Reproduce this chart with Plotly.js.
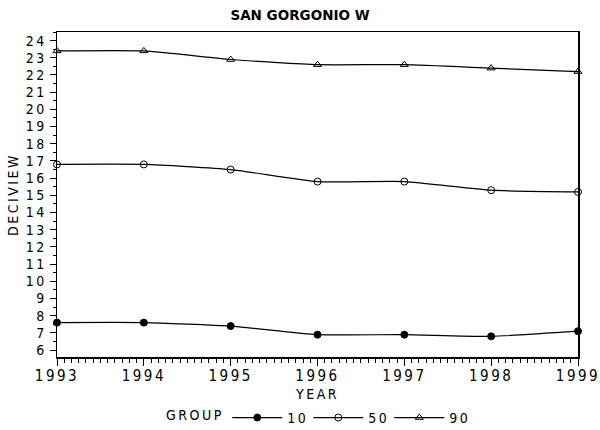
<!DOCTYPE html>
<html>
<head>
<meta charset="utf-8">
<script src="https://cdn.plot.ly/plotly-3.0.1.min.js"></script>
<style>
  body { margin: 0; background: #fff; }
  #chart { width: 600px; height: 430px; }
  .xtick text, .ytick text, .g-xtitle text, .g-ytitle text, .legend text { letter-spacing: 2.5px; }
</style>
</head>
<body>
<div id="chart"></div>
<script>
var years = [1993, 1994, 1995, 1996, 1997, 1998, 1999];
var group10 = [7.6, 7.6, 7.4, 6.9, 6.9, 6.8, 7.1];
var group50 = [16.8, 16.8, 16.5, 15.8, 15.8, 15.3, 15.2];
var group90 = [23.4, 23.4, 22.9, 22.6, 22.6, 22.4, 22.2];
var yTicks = [6,7,8,9,10,11,12,13,14,15,16,17,18,19,20,21,22,23,24];

var narrow = '"DejaVu Sans Condensed", "DejaVu Sans", sans-serif';

function series(y, name, symbol) {
  return {
    x: years,
    y: y,
    name: name,
    type: 'scatter',
    mode: 'lines+markers',
    line: { color: '#000', width: 1.2, shape: 'spline', smoothing: 0.5 },
    marker: { symbol: symbol, size: 7, color: '#000', line: { color: '#000', width: 1 } },
    cliponaxis: false
  };
}

var data = [
  series(group10, '10', 'circle'),
  series(group50, '50', 'circle-open'),
  series(group90, '90', 'triangle-up-open')
];

var layout = {
  width: 600,
  height: 430,
  margin: { l: 57, r: 22, t: 32, b: 73 },
  paper_bgcolor: '#fff',
  plot_bgcolor: '#fff',
  font: { family: narrow, color: '#000', size: 14 },
  title: { text: '<b>SAN GORGONIO W</b>', x: 0.5, xanchor: 'center', y: 0.975, yanchor: 'top',
           font: { family: '"DejaVu Sans", sans-serif', size: 13.5, color: '#000' } },
  showlegend: true,
  legend: {
    orientation: 'h', x: 0.5, xanchor: 'center',
    yref: 'container', y: 0.028, yanchor: 'middle',
    title: { text: 'GROUP&nbsp;&nbsp;', side: 'left', font: { size: 14 } },
    font: { size: 14 }, itemwidth: 50, tracegroupgap: 0
  },
  xaxis: {
    range: [1993, 1999],
    automargin: false,
    ticklabeloverflow: 'allow',
    tickmode: 'array', tickvals: years, ticktext: years.map(String),
    ticks: 'outside', ticklen: 7, tickwidth: 1, tickcolor: '#000',
    minor: { dtick: 1 / 12, tick0: 1993, ticks: 'outside', ticklen: 4, tickcolor: '#000', showgrid: false },
    showline: true, linecolor: '#000', linewidth: 1.5, mirror: true,
    showgrid: false, zeroline: false,
    tickfont: { size: 15 },
    ticklabelstandoff: -3,
    title: { text: 'YEAR', font: { size: 14 }, standoff: 8 }
  },
  yaxis: {
    range: [5.6, 24.5],
    automargin: false,
    tickmode: 'array', tickvals: yTicks, ticktext: yTicks.map(String),
    ticks: 'outside', ticklen: 6, tickwidth: 1, tickcolor: '#000',
    minor: { dtick: 0.5, tick0: 0, ticks: 'outside', ticklen: 3, tickcolor: '#000', showgrid: false },
    showline: true, linecolor: '#000', linewidth: 1.5, mirror: true,
    showgrid: false, zeroline: false,
    tickfont: { size: 14 },
    ticklabelstandoff: 0,
    title: { text: 'DECIVIEW', font: { size: 14 }, standoff: 4 }
  }
};

Plotly.newPlot('chart', data, layout, { displayModeBar: false, staticPlot: true });
</script>
</body>
</html>
